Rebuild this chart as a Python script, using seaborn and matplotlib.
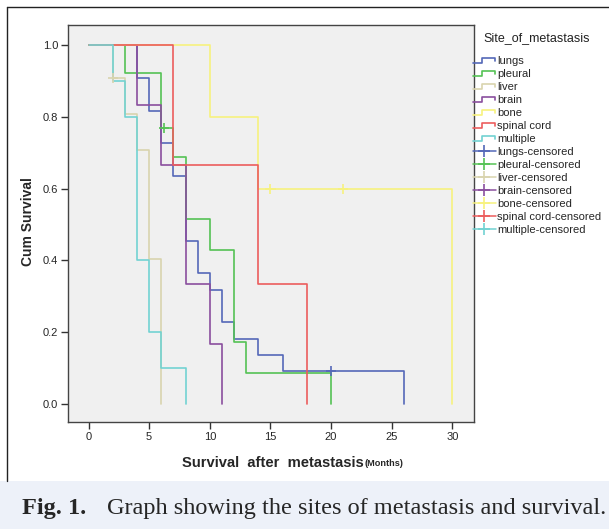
import numpy as np
import pandas as pd
import matplotlib
matplotlib.use("Agg")
import matplotlib.pyplot as plt
import seaborn as sns
from matplotlib.lines import Line2D
from matplotlib.legend_handler import HandlerBase
from matplotlib.patches import Rectangle

# ---------------- data ----------------
sites = ["lungs", "pleural", "liver", "brain", "bone", "spinal cord", "multiple"]

lungs_t = [0, 4, 5, 6, 7, 8, 9, 10, 11, 12, 14, 16, 26]
lungs_s = [1.0, 0.909, 0.818, 0.727, 0.636, 0.455, 0.364, 0.318, 0.227, 0.182, 0.136, 0.091, 0.0]

pleural_t = [0, 3, 6, 7, 8, 10, 12, 13, 20]
pleural_s = [1.0, 0.923, 0.769, 0.688, 0.516, 0.430, 0.172, 0.086, 0.0]

liver_t = [0, 2, 3, 4, 5, 6]
liver_s = [1.0, 0.909, 0.810, 0.709, 0.405, 0.0]

brain_t = [0, 4, 6, 8, 10, 11]
brain_s = [1.0, 0.833, 0.667, 0.333, 0.167, 0.0]

bone_t = [0, 10, 14, 30]
bone_s = [1.0, 0.8, 0.6, 0.0]

spinal_t = [0, 7, 14, 18]
spinal_s = [1.0, 0.667, 0.333, 0.0]

multiple_t = [0, 2, 3, 4, 5, 6, 8]
multiple_s = [1.0, 0.9, 0.8, 0.4, 0.2, 0.1, 0.0]

# censored observations
cens_site = ["lungs", "pleural", "liver", "bone", "bone"]
cens_t = [20, 6.2, 2.0, 15, 21]
cens_s = [0.091, 0.769, 0.909, 0.6, 0.6]

xticks = [0, 5, 10, 15, 20, 25, 30]
yticks = [0.0, 0.2, 0.4, 0.6, 0.8, 1.0]

colors = {
    "lungs": "#5468b8",
    "pleural": "#55c255",
    "liver": "#d9d4ae",
    "brain": "#8a4f9e",
    "bone": "#f7f27e",
    "spinal cord": "#ec5d5d",
    "multiple": "#72d2d2",
}

# ---------------- build tables ----------------
curves = {
    "lungs": (lungs_t, lungs_s),
    "pleural": (pleural_t, pleural_s),
    "liver": (liver_t, liver_s),
    "brain": (brain_t, brain_s),
    "bone": (bone_t, bone_s),
    "spinal cord": (spinal_t, spinal_s),
    "multiple": (multiple_t, multiple_s),
}
rows = []
for site in sites:
    t, s = curves[site]
    for ti, si in zip(t, s):
        rows.append({"time": ti, "surv": si, "site": site})
df = pd.DataFrame(rows)
cens_df = pd.DataFrame({"time": cens_t, "surv": cens_s, "site": cens_site})

# ---------------- figure ----------------
sns.set_style("white")
plt.rcParams["font.family"] = ["Liberation Sans", "DejaVu Sans"]

W, H = 609, 529
fig = plt.figure(figsize=(W / 100, H / 100), dpi=100)

def fx(px):
    return px / W

def fy(py):
    return 1 - py / H

# outer frame (left & top) and caption band
fig.add_artist(Line2D([fx(7), fx(7)], [fy(7), fy(481)], color="#222222", lw=1.0))
fig.add_artist(Line2D([fx(7), 1.0], [fy(7), fy(7)], color="#222222", lw=1.0))
fig.patches.append(Rectangle((0, 0), 1, fy(481), transform=fig.transFigure,
                             facecolor="#edf1f9", edgecolor="none", zorder=0))

ax_l, ax_r, ax_t, ax_b = 68, 474, 25, 422
ax = fig.add_axes([fx(ax_l), fy(ax_b), fx(ax_r - ax_l), (ax_b - ax_t) / H])
ax.set_facecolor("#f0f0f0")

sns.lineplot(data=df, x="time", y="surv", hue="site", hue_order=sites,
             palette=colors, drawstyle="steps-post", estimator=None,
             lw=1.2, legend=False, ax=ax)
sns.scatterplot(data=cens_df, x="time", y="surv", hue="site", hue_order=sites,
                palette=colors, marker="+", s=55, linewidth=1.2, legend=False,
                ax=ax, zorder=5)

ax.set_xlim(-1.69, 31.78)
ax.set_ylim(-0.051, 1.057)
ax.set_xticks(xticks)
ax.set_xticklabels([str(v) for v in xticks])
ax.set_yticks(yticks)
ax.set_yticklabels([f"{v:.1f}" for v in yticks])
ax.tick_params(axis="both", which="both", direction="out", length=5, width=1,
               color="#333333", labelsize=8, pad=2, bottom=True, left=True)
for sp in ax.spines.values():
    sp.set_color("#444444")
    sp.set_linewidth(1.0)
ax.set_xlabel("")
ax.set_ylabel("")

# axis titles
fig.text(fx(28), fy(222), "Cum Survival", rotation=90, fontsize=10,
         fontweight="bold", ha="center", va="center")
xl = fig.text(fx(182), fy(463), "Survival  after  metastasis", fontsize=10.6,
              fontweight="bold", ha="left", va="center")
fig.canvas.draw()
bb = xl.get_window_extent(renderer=fig.canvas.get_renderer())
fig.text(bb.x1 / W + fx(1), fy(464), "(Months)", fontsize=6.6, fontweight="bold",
         ha="left", va="center")

# legend with step icons
class StepHandler(HandlerBase):
    def create_artists(self, legend, orig_handle, xdescent, ydescent, width,
                       height, fontsize, trans):
        x0 = -xdescent
        y0 = -ydescent
        xs = [x0, x0 + 0.4 * width, x0 + 0.4 * width, x0 + 0.95 * width, x0 + 0.95 * width]
        ys = [y0 + 0.1 * height, y0 + 0.1 * height, y0 + 0.8 * height,
              y0 + 0.8 * height, y0 + 0.35 * height]
        ln = Line2D(xs, ys, color=orig_handle.get_color(), lw=1.2, transform=trans)
        return [ln]

handles = []
labels = []
for site in sites:
    handles.append(Line2D([], [], color=colors[site]))
    labels.append(site)
for site in sites:
    handles.append(Line2D([], [], color=colors[site], marker="+", markersize=8,
                          lw=1.1, markeredgewidth=1.2))
    labels.append(site + "-censored")

hmap = {h: StepHandler() for h in handles[:len(sites)]}
fig.text(fx(483), fy(38), "Site_of_metastasis", fontsize=9, ha="left", va="center",
         color="#222222")
leg = fig.legend(handles, labels, loc="upper left",
                 bbox_to_anchor=(fx(465), fy(48)), frameon=False,
                 fontsize=8, handlelength=2.1, handletextpad=0.1,
                 labelspacing=0.27, borderpad=0.2, handler_map=hmap)

# caption
serif = ["Liberation Serif", "DejaVu Serif"]
fig.text(fx(22), fy(514), "Fig. 1.", fontsize=17.5, fontweight="bold",
         family=serif, ha="left", va="baseline")
fig.text(fx(107), fy(514), "Graph showing the sites of metastasis and survival.",
         fontsize=17.5, family=serif, ha="left", va="baseline")

fig.savefig("out.png", dpi=100)
